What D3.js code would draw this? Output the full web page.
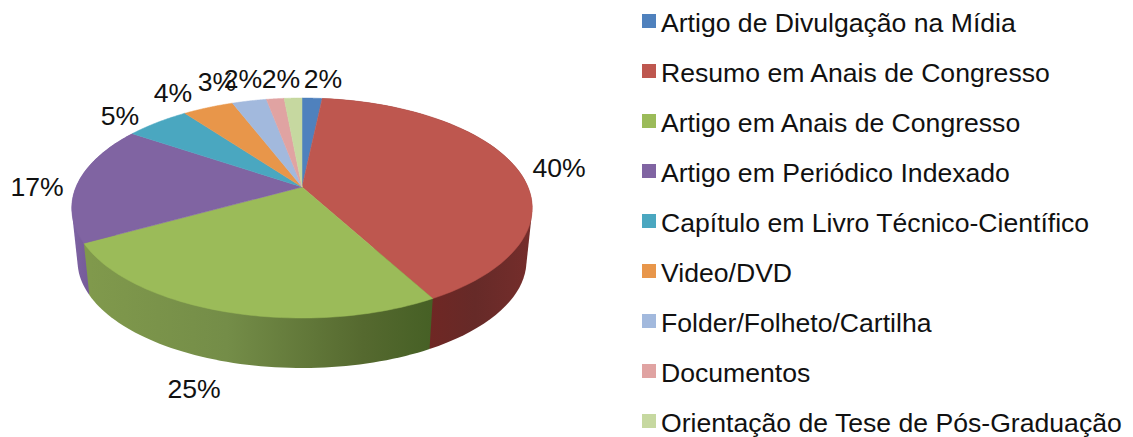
<!DOCTYPE html>
<html lang="pt">
<head>
  <meta charset="UTF-8">
  <title>Produção por tipo</title>
  <script src="https://d3js.org/d3.v7.min.js"></script>
  <style>
    html, body { margin: 0; background: #fff; }
    svg { display: block; }
    text { font-family: "Liberation Sans", Arial, sans-serif; fill: #111; }
  </style>
</head>
<body>
<div id="chart-container"></div>

<script>
var categories = [
  "Artigo de Divulgação na Mídia",
  "Resumo em Anais de Congresso",
  "Artigo em Anais de Congresso",
  "Artigo em Periódico Indexado",
  "Capítulo em Livro Técnico-Científico",
  "Video/DVD",
  "Folder/Folheto/Cartilha",
  "Documentos",
  "Orientação de Tese de Pós-Graduação"
];
// the printed labels are these rounded
var values = [1.7, 40.3, 25, 17.4, 5.4, 4.3, 2.9, 1.5, 1.5];
var colors = ["#4f81bd", "#be574f", "#9bbb59", "#8064a2", "#4aa7c0", "#e8964a", "#a2b9dd", "#e0a3a2", "#c6d8a0"];

// where each percent label sits, same order as values
var labelPos = [[323, 79], [559, 168], [194, 389], [37, 187], [120, 116], [173, 93], [217, 82], [243, 79], [281, 79]];

var width = 1133, height = 437;

var svg = d3.select("#chart-container")
  .append("svg")
  .attr("width", width)
  .attr("height", height);

// the pie is a tilted disc: apex above the ellipse centre, so use a small perspective
var apexX = 302, apexY = 187;
var radiusX = 226, radiusY = 106, tilt = 0.191;
var shrink = 0.025, vanishY = 2318;

function topPoint(a) {
  var w = 1 + tilt * Math.cos(a);
  return [apexX + radiusX * Math.sin(a) / w, apexY - radiusY * Math.cos(a) / w];
}

function bottomPoint(a) {
  var p = topPoint(a);
  return [p[0] + (apexX - p[0]) * shrink, p[1] + (vanishY - p[1]) * shrink];
}

function arcAngles(d) {
  return d3.range(0, 61).map(function(i) {
    return d.startAngle + (d.endAngle - d.startAngle) * i / 60;
  });
}

var slices = d3.pie().sort(null).value(function(d) { return d; })(values);
var line = d3.line();

// side wall shading
var defs = svg.append("defs");
function sideGradient(id, x1, x2, stops) {
  var g = defs.append("linearGradient")
    .attr("id", id)
    .attr("gradientUnits", "userSpaceOnUse")
    .attr("x1", x1).attr("x2", x2)
    .attr("y1", 0).attr("y2", 0);
  stops.forEach(function(s) {
    g.append("stop").attr("offset", s[0]).attr("stop-color", s[1]);
  });
}
sideGradient("side1", 430, 530, [[0, "#6f2724"], [0.45, "#662a28"], [1, "#752d2b"]]);
sideGradient("side2", 90, 432, [[0, "#80994c"], [0.4, "#748d48"], [0.8, "#55692f"], [1, "#466025"]]);
sideGradient("side3", 72, 92, [[0, "#7d62a3"], [1, "#745a96"]]);
var sideFill = { 1: "url(#side1)", 2: "url(#side2)", 3: "url(#side3)" };

// side walls first, the top faces cover whatever is behind. green goes last, its wall is in front
svg.append("g")
  .selectAll("path")
  .data([slices[3], slices[1], slices[2]])
  .join("path")
  .attr("fill", function(d) { return sideFill[d.index]; })
  .attr("d", function(d) {
    var angles = arcAngles(d);
    var hull = d3.polygonHull(angles.map(topPoint).concat(angles.map(bottomPoint)));
    return line(hull) + "Z";
  });

// top faces
svg.append("g")
  .selectAll("path")
  .data(slices)
  .join("path")
  .attr("fill", function(d) { return colors[d.index]; })
  .attr("stroke", function(d) { return colors[d.index]; })
  .attr("stroke-width", 0.5)
  .attr("d", function(d) {
    return line([[apexX, apexY]].concat(arcAngles(d).map(topPoint))) + "Z";
  });

// percent labels
svg.append("g")
  .selectAll("text")
  .data(values)
  .join("text")
  .attr("x", function(d, i) { return labelPos[i][0]; })
  .attr("y", function(d, i) { return labelPos[i][1]; })
  .attr("dy", "0.35em")
  .attr("text-anchor", "middle")
  .style("font-size", "26.6px")
  .text(function(d) { return Math.round(d) + "%"; });

// legend
var legendY = d3.scalePoint()
  .domain(categories)
  .range([23, 423]);

var legend = svg.append("g")
  .selectAll("g")
  .data(categories)
  .join("g")
  .attr("transform", function(d) { return "translate(642," + legendY(d) + ")"; });

legend.append("rect")
  .attr("x", 0)
  .attr("y", -9)
  .attr("width", 14)
  .attr("height", 14)
  .attr("fill", function(d, i) { return colors[i]; });

legend.append("text")
  .attr("x", 19)
  .attr("dy", "0.35em")
  .style("font-size", "26.6px")
  .text(function(d) { return d; });
</script>
</body>
</html>
